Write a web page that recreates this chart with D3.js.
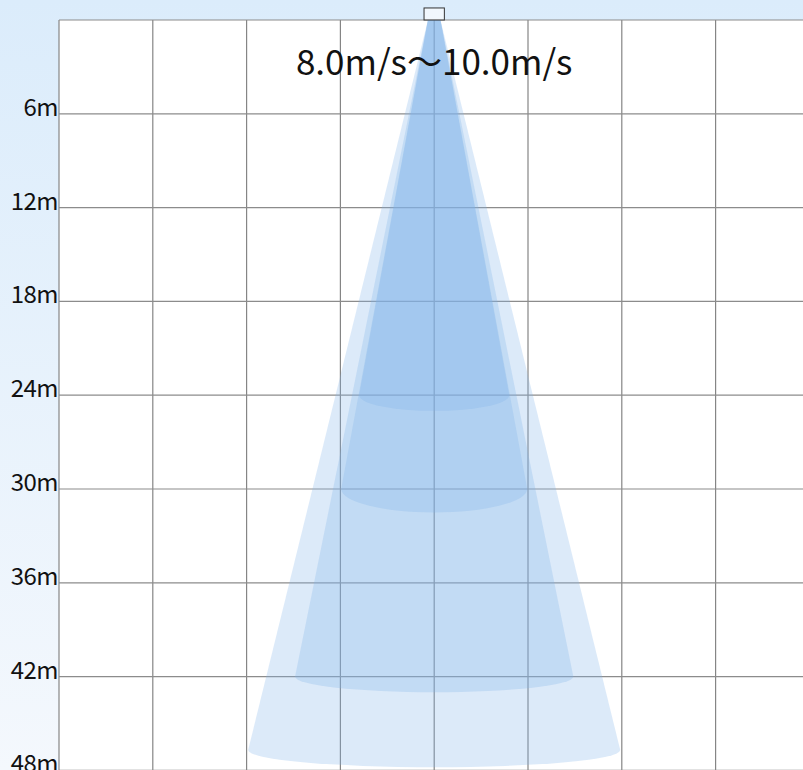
<!DOCTYPE html>
<html>
<head>
<meta charset="utf-8">
<script src="https://cdn.jsdelivr.net/npm/d3@7"></script>
<style>
  html, body { margin: 0; padding: 0; }
  body { width: 803px; height: 770px; overflow: hidden; }
</style>
</head>
<body>
<div id="chart"></div>
<script>
// distance ticks on the left (m)
const depthTicks = [6, 12, 18, 24, 30, 36, 42, 48];
// vertical grid, lateral offset from the sensor (m)
const sideTicks = [-24, -18, -12, -6, 0, 6, 12, 18, 24];

// detection cones, outermost last
const reachM = [24, 30, 42, 46.7];        // depth where the cone sides end
const halfWidthM = [4.8, 5.95, 8.9, 11.9]; // half width at that depth
const bulgeM = [1.0, 1.5, 1.0, 1.1];       // how far the round bottom drops
const topHalfM = 0.4;                      // half width at the sensor

const speedLabel = '8.0m/s〜10.0m/s';
const sensorW = 1.3, sensorH = 0.77;

const W = 803, H = 770;
const margin = { top: 20, left: 59 };
const cell = 93.8; // px per 6 m

const x = d3.scaleLinear().domain([-24, 24]).range([margin.left, margin.left + cell * 8]);
const y = d3.scaleLinear().domain([0, 48]).range([margin.top, margin.top + cell * 8]);

const svg = d3.select('#chart').append('svg')
    .attr('width', W)
    .attr('height', H);

const grad = svg.append('defs').append('linearGradient')
    .attr('id', 'bg').attr('x1', 0).attr('y1', 0).attr('x2', 0).attr('y2', 1);
grad.append('stop').attr('offset', '0%').attr('stop-color', '#dbecfb');
grad.append('stop').attr('offset', '100%').attr('stop-color', '#f4f8fd');

svg.append('rect').attr('width', W).attr('height', H).attr('fill', 'url(#bg)');

// plot area
svg.append('rect')
    .attr('x', x(-24)).attr('y', y(0))
    .attr('width', W - x(-24)).attr('height', H - y(0))
    .attr('fill', '#fff');

// grid
svg.append('g').selectAll('line.v')
    .data(sideTicks)
    .enter().append('line')
    .attr('x1', d => x(d)).attr('x2', d => x(d))
    .attr('y1', y(0)).attr('y2', H)
    .attr('stroke', '#858585').attr('stroke-width', 1.2);

svg.append('g').selectAll('line.h')
    .data([0].concat(depthTicks))
    .enter().append('line')
    .attr('x1', x(-24)).attr('x2', W)
    .attr('y1', d => y(d)).attr('y2', d => y(d))
    .attr('stroke', '#8c8c8c').attr('stroke-width', 1.2);

// cones
const cones = reachM.map((r, i) => ({ reach: r, half: halfWidthM[i], bulge: bulgeM[i] }));

function conePath(c) {
    const yTop = y(0);
    const xl = x(-c.half), xr = x(c.half), yb = y(c.reach);
    const rx = (xr - xl) / 2, ry = y(c.bulge) - y(0);
    return 'M' + x(-topHalfM) + ',' + yTop +
        'L' + x(topHalfM) + ',' + yTop +
        'L' + xr + ',' + yb +
        'A' + rx + ',' + ry + ' 0 0 1 ' + xl + ',' + yb + 'Z';
}

svg.append('g').selectAll('path')
    .data(cones.slice().reverse())
    .enter().append('path')
    .attr('d', conePath)
    .attr('fill', '#80b2ea')
    .attr('fill-opacity', 0.28);

// sensor
svg.append('rect')
    .attr('x', x(-sensorW / 2)).attr('y', y(-sensorH))
    .attr('width', x(sensorW / 2) - x(-sensorW / 2))
    .attr('height', y(0) - y(-sensorH))
    .attr('fill', '#fff').attr('fill-opacity', 0.6)
    .attr('stroke', '#333').attr('stroke-width', 1);

// depth labels
svg.append('g').selectAll('text')
    .data(depthTicks)
    .enter().append('text')
    .attr('x', x(-24) - 1)
    .attr('y', d => y(d) + 2)
    .attr('text-anchor', 'end')
    .attr('font-family', '"Noto Sans CJK JP", "Noto Sans", sans-serif')
    .attr('font-size', 24)
    .attr('letter-spacing', -0.5)
    .attr('fill', '#111')
    .text(d => d + 'm');

svg.append('text')
    .attr('x', x(0))
    .attr('y', 75)
    .attr('text-anchor', 'middle')
    .attr('font-family', '"Noto Sans CJK JP", "Noto Sans", sans-serif')
    .attr('font-size', 35)
    .attr('fill', '#111')
    .text(speedLabel);
</script>
</body>
</html>
